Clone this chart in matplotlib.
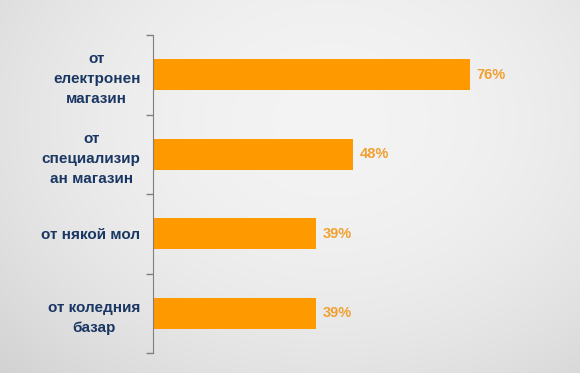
import numpy as np
import matplotlib
matplotlib.use("Agg")
import matplotlib.pyplot as plt

# data
categories = ["от\nелектронен\nмагазин", "от\nспециализир\nан магазин", "от някой мол", "от коледния\nбазар"]
values = [76, 48, 39, 39]
value_labels = ["76%", "48%", "39%", "39%"]

plt.rcParams['font.family'] = ['Liberation Sans', 'DejaVu Sans']

fig = plt.figure(figsize=(5.8, 3.73), dpi=100)

# radial grey background
bg = fig.add_axes([0, 0, 1, 1], zorder=-1)
yy, xx = np.mgrid[0:373, 0:580]
r = np.sqrt(((xx - 330) / 420.0) ** 2 + ((yy - 120) / 330.0) ** 2)
shade = 0.955 - 0.11 * np.clip(r, 0, 1.3) ** 2
bg.imshow(np.dstack([shade] * 3), aspect='auto', extent=[0, 1, 0, 1])
bg.axis('off')

ax = fig.add_axes([153 / 580, 1 - 353 / 373, 417 / 580, 318 / 373])
ax.patch.set_alpha(0)

pos = np.arange(len(values))
ax.barh(pos, values, height=0.39, color='#FF9900')
for p, v, lab in zip(pos, values, value_labels):
    ax.text(v + 1.6, p, lab, va='center', ha='left', fontsize=10.5,
            fontweight='bold', color='#F0A030')

ax.set_xlim(0, 100)
ax.set_ylim(3.5, -0.5)
ax.set_yticks(pos)
ax.set_yticklabels(categories, fontsize=11, fontweight='bold', color='#1A3763',
                   linespacing=1.55, ha='right', multialignment='center')
ax.tick_params(axis='y', which='major', length=0, pad=9)
ax.set_yticks(np.arange(-0.5, 4, 1), minor=True)
ax.tick_params(axis='y', which='minor', length=5, color='#7f7f7f', width=1)
ax.set_xticks([])
for s in ['top', 'right', 'bottom']:
    ax.spines[s].set_visible(False)
ax.spines['left'].set_color('#7f7f7f')

fig.savefig('out.png', dpi=100)
